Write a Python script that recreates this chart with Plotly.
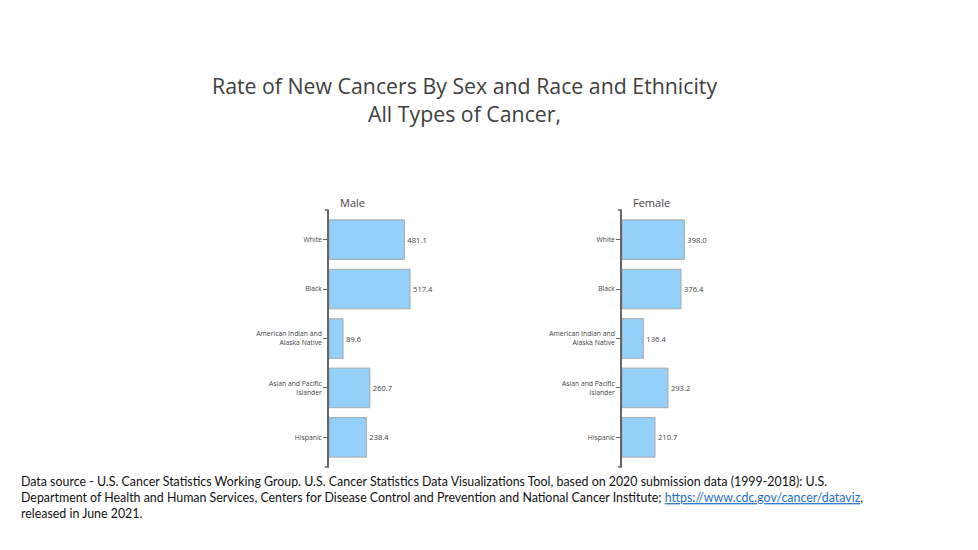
import plotly.graph_objects as go

categories = ["White", "Black", "American Indian and<br>Alaska Native",
              "Asian and Pacific<br>Islander", "Hispanic"]
male_rates = [481.1, 517.4, 89.6, 260.7, 238.4]
female_rates = [398.0, 376.4, 136.4, 293.2, 210.7]
panel_titles = ["Male", "Female"]

OFF = 8  # page body margin
W, H = 978 - 2 * OFF, 550 - 2 * OFF
BAR_COLOR = "#93D0FA"
EDGE = "#A8A8A8"
TXT = "#444444"


def px(x):
    return (x - OFF) / W


def py(y):
    return 1 - (y - OFF) / H


fig = go.Figure()

panels = [
    (male_rates, "x", "y", 329, 423),
    (female_rates, "x2", "y2", 622, 716),
]
y_top, y_bot = 210, 467

for (vals, xa, ya, x0, x1) in panels:
    fig.add_trace(go.Bar(
        x=vals, y=categories, orientation="h",
        xaxis=xa, yaxis=ya,
        marker=dict(color=BAR_COLOR, line=dict(color=EDGE, width=1)),
        text=[f"{v:.1f}" for v in vals], textposition="outside",
        textfont=dict(size=7.6, color=TXT, family="Open Sans"),
        cliponaxis=False, showlegend=False, hoverinfo="skip",
    ))

common_x = dict(range=[0, 600], showgrid=False, zeroline=False,
                showticklabels=False, ticks="", showline=False, fixedrange=True)
common_y = dict(autorange=False, range=[4.6, -0.6], type="category",
                showgrid=False, zeroline=False, showline=True,
                linecolor="#666666", linewidth=1.5, ticks="outside",
                ticklen=4, tickcolor="#666666", tickwidth=1,
                tickfont=dict(size=6.8, color=TXT, family="Open Sans"))

ydom = [py(y_bot), py(y_top)]
fig.update_layout(
    xaxis=dict(domain=[px(329), px(423)], anchor="y", **common_x),
    yaxis=dict(domain=ydom, anchor="x", **common_y),
    xaxis2=dict(domain=[px(622), px(716)], anchor="y2", **common_x),
    yaxis2=dict(domain=ydom, anchor="x2", **common_y),
    bargap=0.2,
)

# axis end caps
for (vals, xa, ya, x0, x1), name in zip(panels, panel_titles):
    for yy in (0, 1):
        fig.add_shape(type="line", xref=f"{xa} domain", yref=f"{ya} domain",
                      x0=-0.045, x1=0, y0=yy, y1=yy,
                      line=dict(color="#666666", width=1.5))
    fig.add_annotation(text=name, xref=f"{xa} domain", yref="paper",
                       x=0.1, y=py(202), showarrow=False,
                       xanchor="left", yanchor="middle",
                       font=dict(size=11, color=TXT, family="Open Sans"))

fig.add_annotation(
    text="Rate of New Cancers By Sex and Race and Ethnicity<br>All Types of Cancer,",
    xref="paper", yref="paper", x=px(464), y=py(100),
    showarrow=False, xanchor="center", yanchor="middle", align="center",
    font=dict(size=21.3, color="#404040", family="Open Sans"))

footer = ("Data source - U.S. Cancer Statistics Working Group. U.S. Cancer Statistics Data "
          "Visualizations Tool, based on 2020 submission data (1999-2018): U.S.<br>"
          "Department of Health and Human Services, Centers for Disease Control and "
          "Prevention and National Cancer Institute; "
          "<span style='color:#1F6FC6'><u>https://www.cdc.gov/cancer/dataviz</u></span>,<br>"
          "released in June 2021.")
fig.add_annotation(text=footer, xref="paper", yref="paper",
                   x=px(19), y=py(472), showarrow=False,
                   xanchor="left", yanchor="top", align="left",
                   font=dict(size=12.4, color="#111111", family="Lato"))

fig.update_layout(width=W, height=H, margin=dict(l=0, r=0, t=0, b=0),
                  paper_bgcolor="white", plot_bgcolor="white")

fig.write_html("out.html")
